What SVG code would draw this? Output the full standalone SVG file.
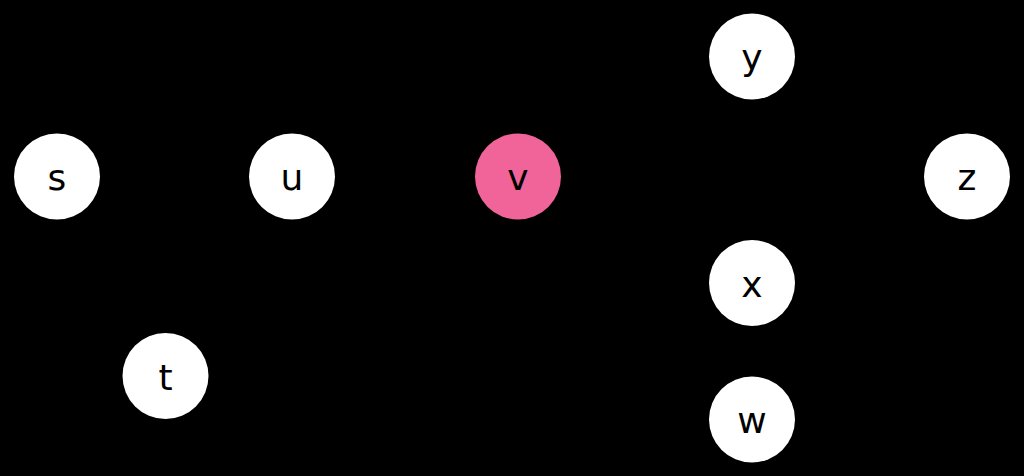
<svg xmlns="http://www.w3.org/2000/svg" width="1024" height="476" viewBox="0 0 1024 476">
<style>
.bg{fill:#000}
.n{fill:#fff}
.hl{fill:#f0649a}
.lb{font-family:"DejaVu Sans",sans-serif;font-size:36px;fill:#000;text-anchor:middle}
</style>
<rect class="bg" x="0" y="0" width="1024" height="476"/>
<g id="connectors"></g>
<g id="node-s"><circle class="n" cx="57" cy="176.5" r="43"/><text class="lb" x="57" y="190">s</text></g>
<g id="node-u"><circle class="n" cx="292" cy="176.5" r="43"/><text class="lb" x="292" y="190">u</text></g>
<g id="node-t"><circle class="n" cx="165.5" cy="376" r="43"/><text class="lb" x="165.5" y="389.5">t</text></g>
<g id="node-v"><circle class="hl" cx="518" cy="176.5" r="43"/><text class="lb" x="518" y="190">v</text></g>
<g id="node-y"><circle class="n" cx="752" cy="56.5" r="43"/><text class="lb" x="752" y="70">y</text></g>
<g id="node-z"><circle class="n" cx="967" cy="176.5" r="43"/><text class="lb" x="967" y="190">z</text></g>
<g id="node-x"><circle class="n" cx="752" cy="283" r="43"/><text class="lb" x="752" y="296.5">x</text></g>
<g id="node-w"><circle class="n" cx="752" cy="419.5" r="43"/><text class="lb" x="752" y="433">w</text></g>
</svg>
